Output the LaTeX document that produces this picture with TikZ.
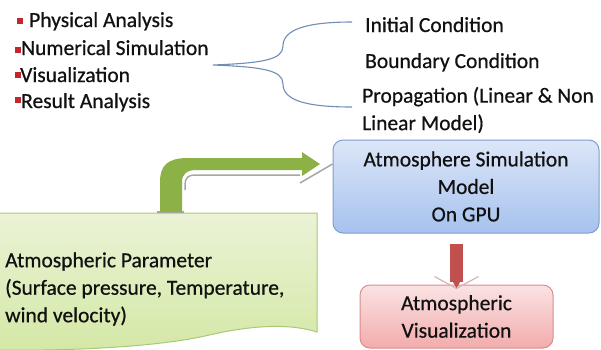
\documentclass[tikz,border=0pt]{standalone}
\usepackage{fontspec}
\setmainfont{Carlito}[FakeBold=0.6]
\usetikzlibrary{arrows.meta}

\definecolor{textgray}{HTML}{111111}
\definecolor{bulletred}{HTML}{C0282D}
\definecolor{bracegray}{HTML}{6F8DB5}
\definecolor{modeltop}{HTML}{DCE6F8}
\definecolor{modelbot}{HTML}{A6C2EE}
\definecolor{modelline}{HTML}{7F9DCC}
\definecolor{vistop}{HTML}{FAE3E3}
\definecolor{visbot}{HTML}{F2ACAC}
\definecolor{visline}{HTML}{D68E8C}
\definecolor{paramtop}{HTML}{EAF3D6}
\definecolor{parambot}{HTML}{D4E8A6}
\definecolor{paramline}{HTML}{A9C87A}
\definecolor{arrowgreen}{HTML}{8CB147}
\definecolor{arrowred}{HTML}{C0504D}
\definecolor{chevron}{HTML}{D9B3B3}
\definecolor{shadowgray}{HTML}{A6A6A6}

\begin{document}
\begin{tikzpicture}[x=1pt, y=-1pt,
  every node/.style={font=\fontsize{21.5}{27.5}\selectfont, text=textgray, inner sep=0pt},
  item/.style={anchor=base west},
  square/.style={fill=bulletred, minimum size=6pt, inner sep=0pt},
  block/.style={rectangle, rounded corners=10pt, draw, line width=1pt, align=center}]

  \useasboundingbox (0,0) rectangle (601,349);

  % Bullet list (top left)
  \node[square] (b1) at (19.5,20.5) {};
  \node[square] (b2) at (18,50) {};
  \node[square] (b3) at (17.5,75) {};
  \node[square] (b4) at (18,100) {};
  \node[item] (phys) at (29,27) {Physical Analysis};
  \node[item] (num) at (21,55) {Numerical Simulation};
  \node[item] (visu) at (20,82) {Visualization};
  \node[item] (res) at (21,108) {Result Analysis};

  % Conditions (top right)
  \node[item] (ic) at (365,32) {Initial Condition};
  \node[item] (bc) at (365,68) {Boundary Condition};
  \node[anchor=west, align=left] (prop) at (362,110) {Propagation (Linear \& Non\\Linear Model)};

  % Brace
  \coordinate (tip) at (213,65);
  \coordinate (up) at (352,22);
  \coordinate (down) at (352,107);
  \draw[bracegray, line width=1.1pt] (up) .. controls (305,22) and (283,30) .. (283,46)
    .. controls (283,60) and (262,63) .. (tip)
    .. controls (262,67) and (283,70) .. (283,84)
    .. controls (283,100) and (305,107) .. (down);

  % Parameter box (document shape)
  \path[draw=paramline, line width=1pt, top color=paramtop, bottom color=parambot]
    (-3,213) -- (317,213) -- (317,332)
    .. controls (292,324) and (255,324) .. (205,336)
    .. controls (150,348) and (60,351) .. (-3,350) -- cycle;
  \node[anchor=west, align=left] (param) at (5,289)
    {Atmospheric Parameter\\(Surface pressure, Temperature,\\wind velocity)};

  % Simulation model and visualization
  \node[block, draw=modelline, top color=modeltop, bottom color=modelbot,
    minimum width=266pt, minimum height=93pt] (model) at (466,186.5)
    {Atmosphere Simulation\\Model\\On GPU};
  \node[block, draw=visline, top color=vistop, bottom color=visbot,
    minimum width=193pt, minimum height=63pt] (vis) at (456.5,316.5)
    {Atmospheric\\Visualization};

  % Bent arrow param -> model
  \draw[shadowgray, line width=2pt] (157,212) -- (184,212);
  \draw[shadowgray, line width=1.5pt] (185,190) -- (185,185)
    .. controls (185,178) and (188,175) .. (195,175) -- (300,175);
  \draw[shadowgray, line width=1.5pt] (300,183) -- (model.west |- 0,164);
  \fill[arrowgreen] (160,212) -- (160,182) .. controls (160,165) and (168,158) .. (188,158)
    -- (302,158) -- (302,152) -- (320,164) -- (302,176) -- (302,170) -- (196,170)
    .. controls (187,170) and (182,174) .. (182,182) -- (182,212) -- cycle;

  % Arrow model -> vis
  \draw[arrowred, line width=13pt, -{Triangle[width'=0pt 1, length=7pt]}]
    ([yshift=-10pt]model.south -| vis.north) -- ([yshift=-4pt]vis.north);
  \draw[chevron, line width=1.2pt] ([xshift=-22pt,yshift=8pt]vis.north) -- ([yshift=-4pt]vis.north)
    -- ([xshift=22pt,yshift=8pt]vis.north);
\end{tikzpicture}
\end{document}
